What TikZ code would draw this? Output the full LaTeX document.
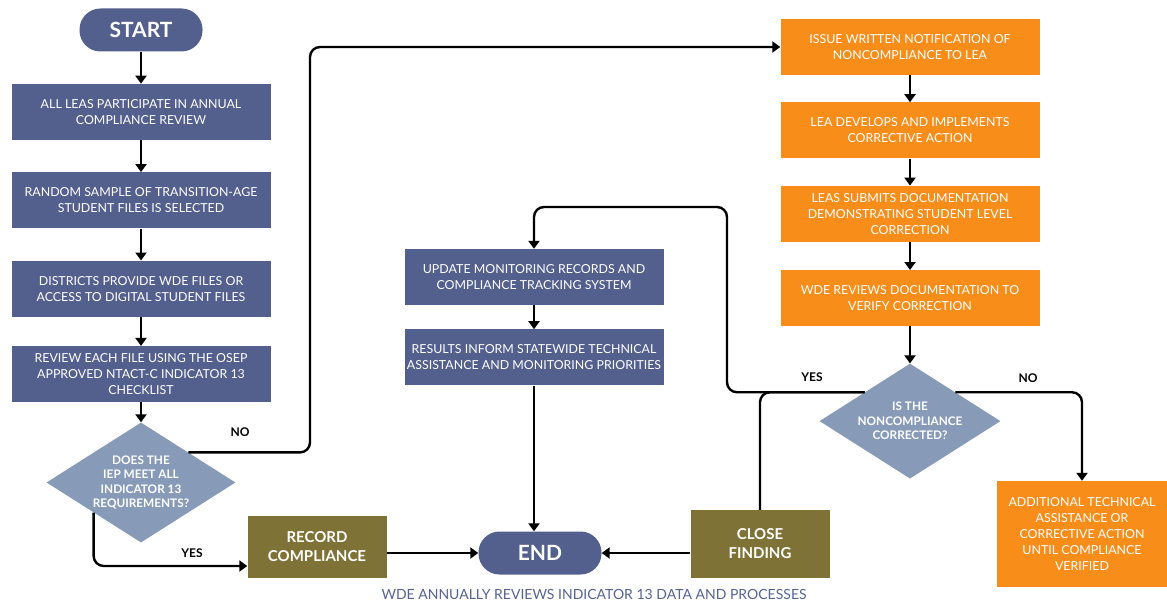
\documentclass[tikz,border=0pt]{standalone}
\usepackage{fontspec}
\setmainfont{Lato}
\usetikzlibrary{arrows.meta,positioning,shapes.geometric}

\definecolor{wdeblue}{HTML}{535F8C}
\definecolor{wdesteel}{HTML}{879BB8}
\definecolor{wdeolive}{HTML}{7F7236}
\definecolor{wdeorange}{HTML}{F88D1A}
\definecolor{wdecaption}{HTML}{55638F}

\begin{document}
\begin{tikzpicture}[x=1pt,y=-1pt,>={Triangle[width=11pt,length=8pt]}]
\tikzstyle{bluebox}=[fill=wdeblue,text=white,minimum width=259pt,minimum height=56pt,inner sep=0pt,align=center,font=\fontsize{12.4}{16}\selectfont]
\tikzstyle{orangebox}=[bluebox,fill=wdeorange]
\tikzstyle{olivebox}=[fill=wdeolive,text=white,minimum width=139pt,inner sep=0pt,align=center,font=\bfseries\fontsize{15}{19}\selectfont]
\tikzstyle{pill}=[fill=wdeblue,text=white,rounded corners=21pt,minimum width=123pt,minimum height=43pt,font=\bfseries\fontsize{21}{21}\selectfont]
\tikzstyle{decision}=[diamond,aspect=1.6,fill=wdesteel,text=white,inner sep=0pt,align=center,font=\bfseries\fontsize{11.8}{14.5}\selectfont]
\tikzstyle{answer}=[font=\bfseries\fontsize{12}{12}\selectfont]
\tikzstyle{flow}=[->,line width=2.4pt,rounded corners=10pt]

\useasboundingbox (0,0) rectangle (1167,602);

% review steps
\node[pill]    (start)   at (141,30)             {START};
\node[bluebox] (leas)    [below=32pt of start]   {ALL LEAS PARTICIPATE IN ANNUAL\\COMPLIANCE REVIEW};
\node[bluebox] (sample)  [below=32pt of leas]    {RANDOM SAMPLE OF TRANSITION-AGE\\STUDENT FILES IS SELECTED};
\node[bluebox] (provide) [below=32pt of sample]  {DISTRICTS PROVIDE WDE FILES OR\\ACCESS TO DIGITAL STUDENT FILES};
\node[bluebox] (review)  [below=29pt of provide] {REVIEW EACH FILE USING THE OSEP\\APPROVED NTACT-C INDICATOR 13\\CHECKLIST};
\node[decision,minimum width=189pt,minimum height=120pt] (iep) [below=20pt of review] {DOES THE\\IEP MEET ALL\\INDICATOR 13\\REQUIREMENTS?};

\node[olivebox,minimum height=62pt] (record) at (317,547) {RECORD\\COMPLIANCE};
\node[pill]    (end)     at (540,553)            {END};
\node[olivebox,minimum height=68pt] (close) at (760,544) {CLOSE\\FINDING};

\node[bluebox] (update)  at (534,277)            {UPDATE MONITORING RECORDS AND\\COMPLIANCE TRACKING SYSTEM};
\node[bluebox] (results) [below=24pt of update]  {RESULTS INFORM STATEWIDE TECHNICAL\\ASSISTANCE AND MONITORING PRIORITIES};

% correction steps
\node[orangebox] (notify)  at (910,47)            {ISSUE WRITTEN NOTIFICATION OF\\NONCOMPLIANCE TO LEA};
\node[orangebox] (develop) [below=27pt of notify]  {LEA DEVELOPS AND IMPLEMENTS\\CORRECTIVE ACTION};
\node[orangebox] (submit)  [below=27pt of develop] {LEAS SUBMITS DOCUMENTATION\\DEMONSTRATING STUDENT LEVEL\\CORRECTION};
\node[orangebox] (verify)  [below=28pt of submit]  {WDE REVIEWS DOCUMENTATION TO\\VERIFY CORRECTION};
\node[decision,minimum width=181pt,minimum height=115pt] (corrected) [below=37pt of verify] {IS THE\\NONCOMPLIANCE\\CORRECTED?};
\node[orangebox,minimum width=170pt,minimum height=106pt] (additional) at (1082,534) {ADDITIONAL TECHNICAL\\ASSISTANCE OR\\CORRECTIVE ACTION\\UNTIL COMPLIANCE\\VERIFIED};

\node[text=wdecaption,font=\fontsize{14}{14}\selectfont] (caption) at (594,594) {WDE ANNUALLY REVIEWS INDICATOR 13 DATA AND PROCESSES};

\node[answer] (no1)  at (240,432)  {NO};
\node[answer] (yes1) at (192,553)  {YES};
\node[answer] (yes2) at (812,377)  {YES};
\node[answer] (no2)  at (1028,378) {NO};

\coordinate (nocol)  at (310,300);
\coordinate (yescol) at (727,207);

\path[flow] (start) edge (leas)
(leas) edge (sample)
(sample) edge (provide)
(provide) edge (review)
(review) edge (iep)
(update) edge (results)
(results.south) edge (results.south |- end.north)
(record.east |- end.west) edge (end.west)
(close.west |- end.east) edge (end.east)
(notify) edge (develop)
(develop) edge (submit)
(submit) edge (verify)
(verify) edge (corrected);

\draw[flow] (iep.north east) -| (nocol) |- (notify.west);
\draw[flow] (iep.south west) |- ([yshift=-19pt]record.west);
\draw[flow] (corrected.north west) -| (yescol) -| (update.north);
\draw[flow,-] (corrected.north west) -| (close.north);
\draw[flow] (corrected.north east) -| (additional.north);
\end{tikzpicture}
\end{document}
